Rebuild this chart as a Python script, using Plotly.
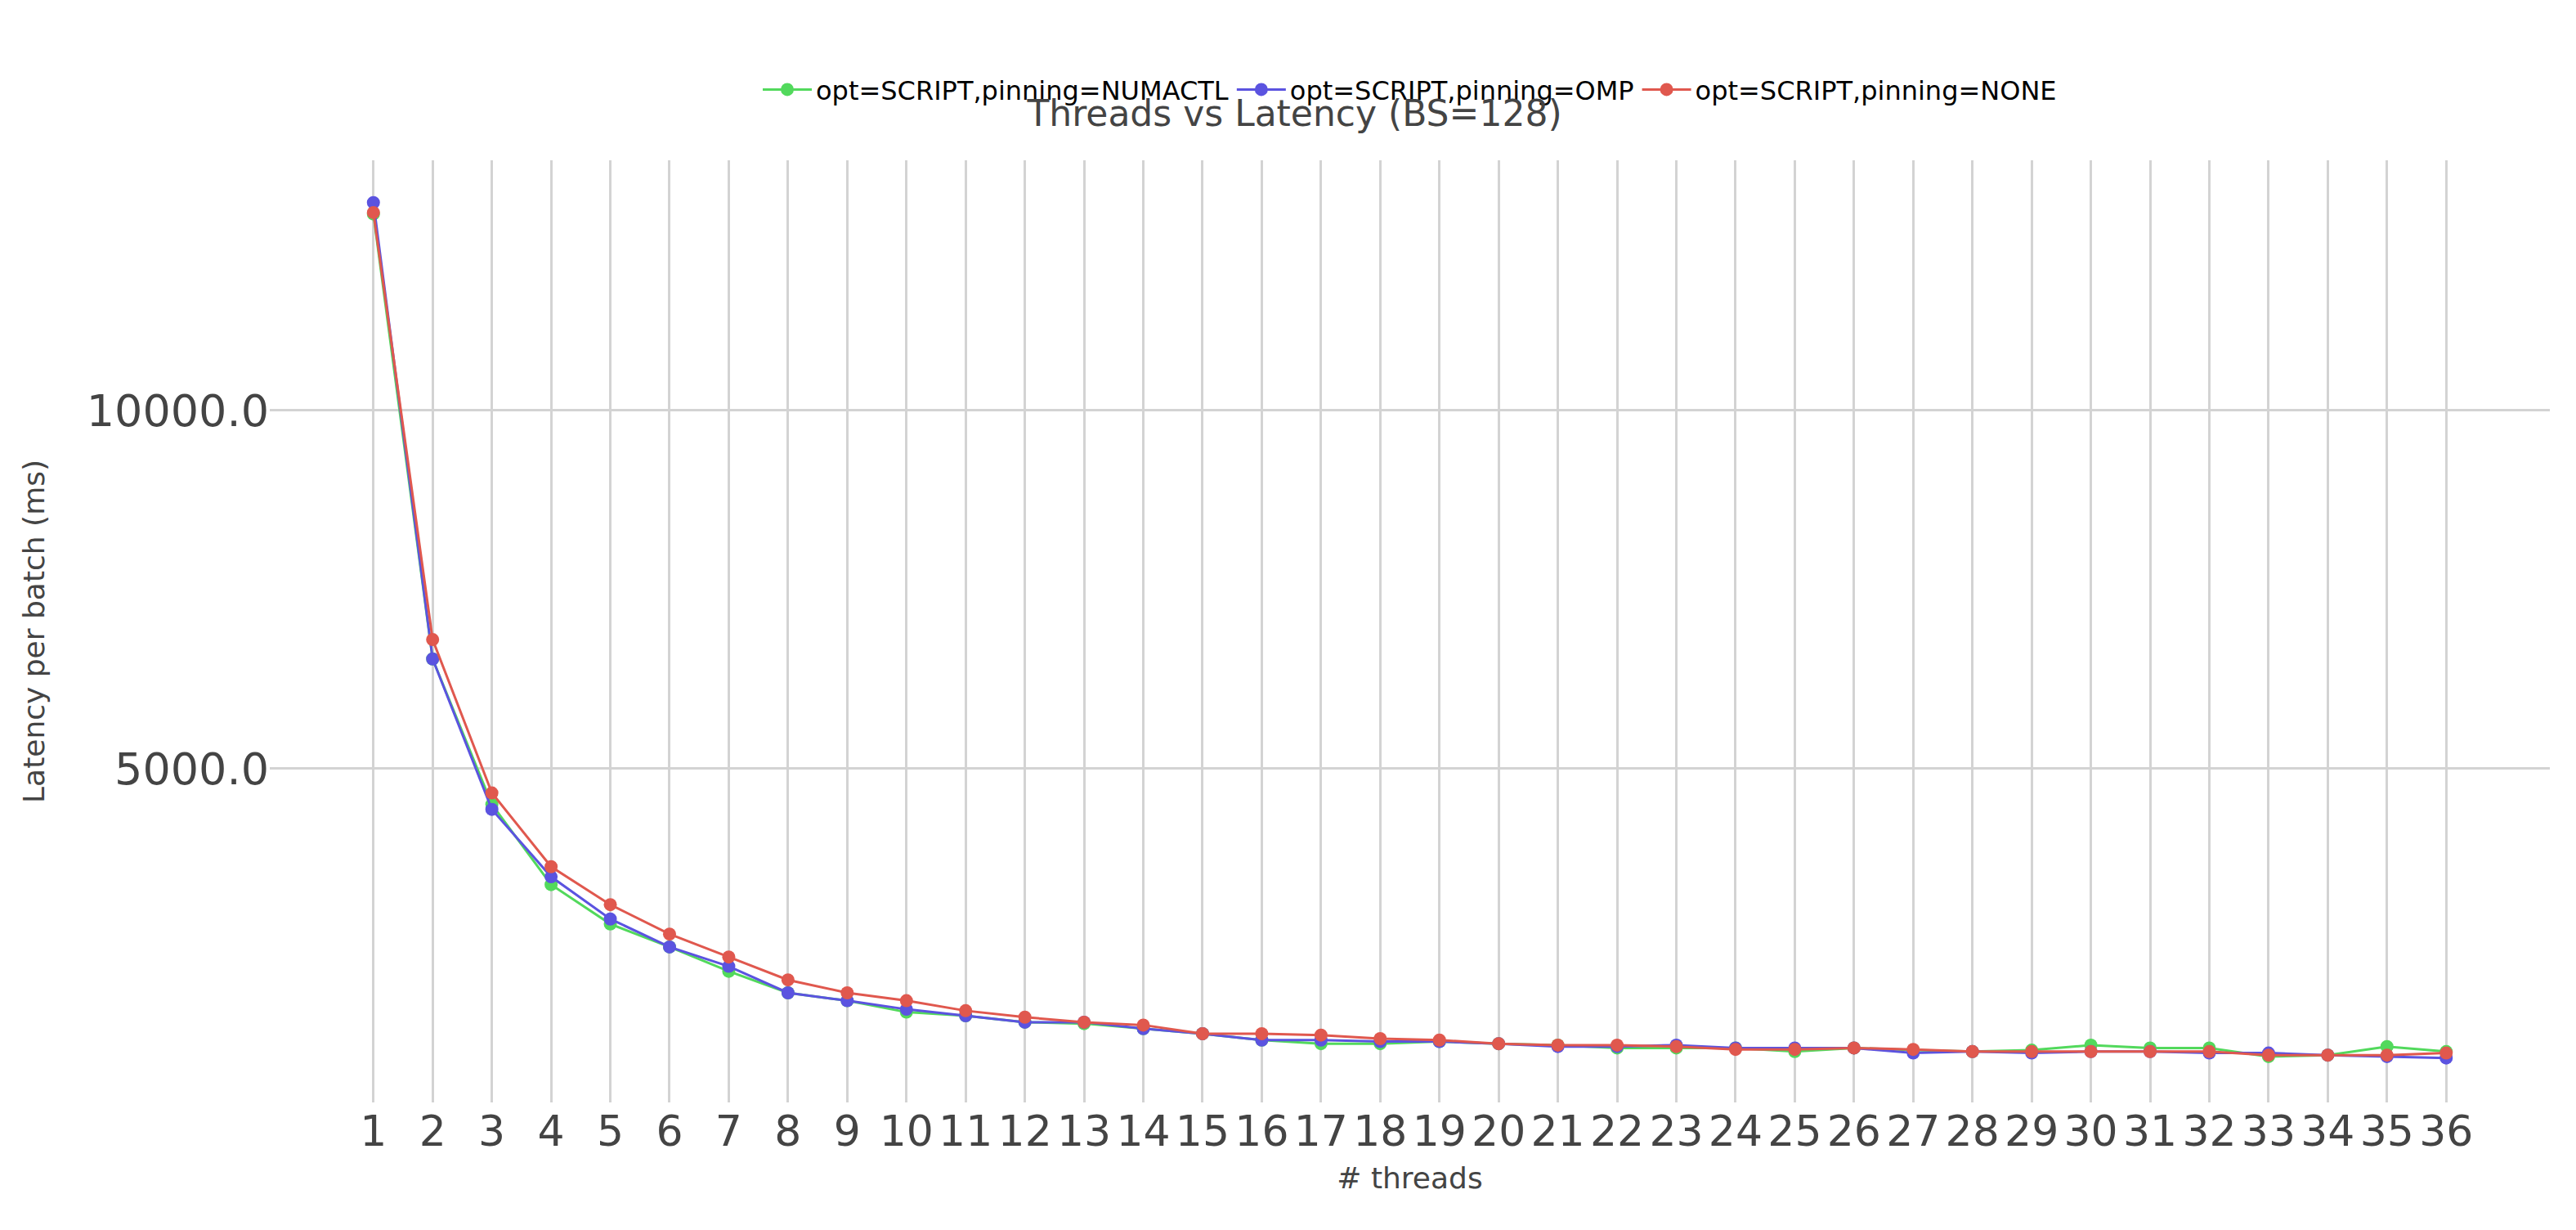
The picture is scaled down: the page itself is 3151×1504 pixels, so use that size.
import plotly.graph_objects as go

threads = list(range(1, 37))

numactl = [12740, 6530, 4500, 3380, 2830, 2510, 2170, 1870, 1760, 1600,
           1550, 1460, 1440, 1370, 1300, 1210, 1160, 1160, 1190, 1160,
           1140, 1100, 1100, 1100, 1050, 1100, 1070, 1050, 1070, 1140,
           1100, 1100, 980, 1000, 1120, 1050]
omp = [12900, 6530, 4430, 3490, 2900, 2510, 2240, 1870, 1760, 1640,
       1550, 1460, 1460, 1370, 1300, 1210, 1210, 1190, 1190, 1160,
       1120, 1120, 1140, 1100, 1100, 1100, 1030, 1050, 1030, 1050,
       1050, 1030, 1030, 1000, 980, 960]
none = [12760, 6800, 4660, 3630, 3100, 2690, 2370, 2050, 1870, 1760,
        1620, 1530, 1460, 1420, 1300, 1300, 1280, 1230, 1210, 1160,
        1140, 1140, 1120, 1080, 1080, 1100, 1080, 1050, 1050, 1050,
        1050, 1050, 1000, 1000, 1000, 1030]

series = [("opt=SCRIPT,pinning=NUMACTL", numactl, "#52d95c"),
          ("opt=SCRIPT,pinning=OMP", omp, "#5b53e0"),
          ("opt=SCRIPT,pinning=NONE", none, "#e0584e")]

fig = go.Figure()
for name, vals, color in series:
    fig.add_trace(go.Scatter(x=threads, y=vals, mode="lines+markers", name=name,
                             line=dict(color=color, width=3),
                             marker=dict(color=color, size=16)))

fig.update_layout(
    width=3151, height=1504,
    plot_bgcolor="white", paper_bgcolor="white",
    font=dict(family="DejaVu Sans", color="#444"),
    title=dict(text="Threads vs Latency (BS=128)", x=0.5, xanchor="center",
               y=0.913, yanchor="middle", font=dict(size=44, color="#444")),
    legend=dict(orientation="h", x=0.5, xanchor="center", y=1.075, yanchor="middle",
                font=dict(size=32, color="black"), itemwidth=60),
    margin=dict(l=322, r=40, t=188, b=164),
)
fig.update_xaxes(title=dict(text="# threads", font=dict(size=36)),
                 tickmode="array", tickvals=threads, ticktext=[str(t) for t in threads],
                 range=[-0.75, 37.75], showgrid=True, gridcolor="#d3d3d3", gridwidth=3,
                 tickfont=dict(size=52), zeroline=False, showline=False)
fig.update_yaxes(title=dict(text="Latency per batch (ms)", font=dict(size=36), standoff=40),
                 tickvals=[5000, 10000], tickformat=".1f",
                 range=[340, 13490], showgrid=True, gridcolor="#d3d3d3", gridwidth=3,
                 tickfont=dict(size=54), zeroline=False, showline=False)

fig.write_html("out.html")
